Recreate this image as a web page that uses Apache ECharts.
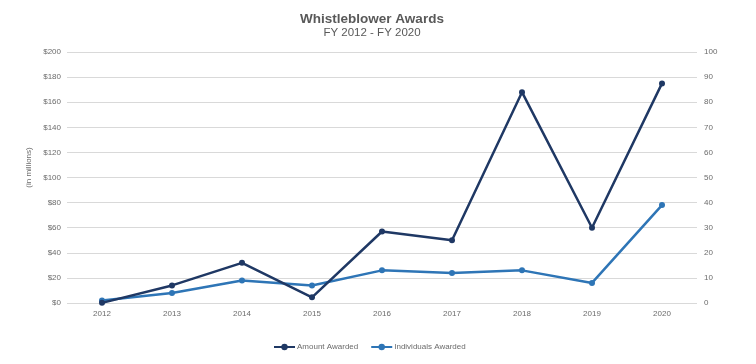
<!DOCTYPE html>
<html><head><meta charset="utf-8">
<script src="https://cdn.jsdelivr.net/npm/echarts@6/dist/echarts.min.js"></script>
<style>html,body{margin:0;padding:0;background:#fff}#c{width:756px;height:364px}</style>
</head><body><div id="c"></div>
<script>
const categories = ['2012','2013','2014','2015','2016','2017','2018','2019','2020'];
const amountAwarded = [0.1, 14, 32, 4.5, 57, 50, 168, 60, 175];
const individualsAwarded = [1, 4, 9, 7, 13, 12, 13, 8, 39];
const leftTicks = [0, 200, 20];
const rightTicks = [0, 100, 10];

const chart = echarts.init(document.getElementById('c'));
const labelColor = '#6b6b6b';
chart.setOption({
  animation: false,
  backgroundColor: '#fff',
  title: [
    {text: 'Whistleblower Awards', left: 367, top: 7, textAlign: 'center',
     textStyle: {fontFamily: 'Liberation Sans', fontSize: 13.5, fontWeight: 'bold', color: '#595959'}},
    {text: 'FY 2012 - FY 2020', left: 367, top: 22, textAlign: 'center',
     textStyle: {fontFamily: 'Liberation Sans', fontSize: 11.5, fontWeight: 'normal', color: '#595959'}}
  ],
  legend: {
    bottom: 8, left: 268, itemWidth: 21, itemHeight: 8, itemGap: 12,
    textStyle: {fontFamily: 'Liberation Sans', fontSize: 8, color: labelColor, padding: [0, 0, 0, -3]},
    data: ['Amount Awarded', 'Individuals Awarded']
  },
  grid: {left: 67, right: 59, top: 52, bottom: 61, containLabel: false},
  xAxis: {
    type: 'category', data: categories, boundaryGap: true,
    axisLine: {show: false}, axisTick: {show: false},
    axisLabel: {fontFamily: 'Liberation Sans', fontSize: 8, color: labelColor, margin: 7}
  },
  yAxis: [
    {type: 'value', min: leftTicks[0], max: leftTicks[1], interval: leftTicks[2],
     name: '(in millions)', nameLocation: 'middle', nameGap: 33, nameRotate: 90,
     nameTextStyle: {fontFamily: 'Liberation Sans', fontSize: 8, color: labelColor, padding: [0, 0, 0, 20]},
     axisLine: {show: false}, axisTick: {show: false},
     axisLabel: {fontFamily: 'Liberation Sans', fontSize: 8, color: labelColor, margin: 6,
       formatter: v => '$' + v},
     splitLine: {lineStyle: {color: '#d9d9d9', width: 1}}},
    {type: 'value', min: rightTicks[0], max: rightTicks[1], interval: rightTicks[2],
     position: 'right',
     axisLine: {show: false}, axisTick: {show: false},
     axisLabel: {fontFamily: 'Liberation Sans', fontSize: 8, color: labelColor, margin: 7},
     splitLine: {show: false}}
  ],
  series: [
    {name: 'Amount Awarded', type: 'line', yAxisIndex: 0, data: amountAwarded,
     symbol: 'circle', symbolSize: 6, z: 3,
     lineStyle: {color: '#1f3864', width: 2.5}, itemStyle: {color: '#1f3864'}},
    {name: 'Individuals Awarded', type: 'line', yAxisIndex: 1, data: individualsAwarded,
     symbol: 'circle', symbolSize: 6, z: 2,
     lineStyle: {color: '#2e75b6', width: 2.5}, itemStyle: {color: '#2e75b6'}}
  ]
});
</script></body></html>
